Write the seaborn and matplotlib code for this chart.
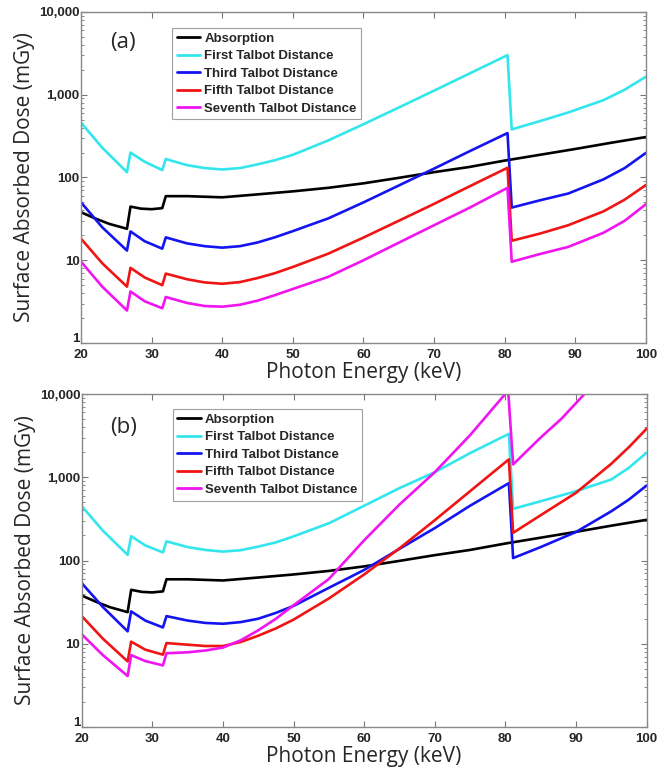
import numpy as np
import pandas as pd
import matplotlib
matplotlib.use("Agg")
import matplotlib.pyplot as plt
import matplotlib.transforms as mtransforms
from matplotlib.ticker import FixedLocator, FuncFormatter, LogLocator, NullFormatter
import seaborn as sns

# series names and colours
series_names = ['Absorption', 'First Talbot Distance', 'Third Talbot Distance',
                'Fifth Talbot Distance', 'Seventh Talbot Distance']
series_colors = ['#000000', '#33e6ee', '#1414f0', '#f01414', '#f014f0']

# absorption curve (same in both panels)
absorption_energy = [20, 22, 24, 26.5, 27, 28.5, 30, 31.5, 32, 35, 40, 45, 50, 55,
                     60, 65, 70, 75, 80, 85, 90, 95, 100]
absorption_dose = [38, 32, 27.5, 24, 44.5, 42, 41.4, 42.6, 59.5, 59.5, 57.6, 62.5, 68, 75,
                   85, 99, 116, 134, 160, 188, 221, 262, 308]

# panel (a)
energy_a = [20, 23, 26.5, 27, 29, 31.5, 32, 35, 37.5, 40, 42.5, 45, 47.5, 50, 55, 60, 65,
            70, 75, 80.4, 81, 85, 89, 94, 97, 100]
first_a = [459, 229, 116, 200, 155, 123, 167, 141, 130, 125, 130, 144, 162, 188, 280, 440,
           700, 1120, 1800, 3006, 381, 480, 610, 860, 1150, 1650]
third_a = [50, 25, 13.1, 22.3, 17, 13.8, 18.9, 16, 14.8, 14.2, 14.8, 16.4, 19, 22.5, 32, 50,
           80, 128, 207, 344, 43.3, 53, 64, 95, 130, 198]
fifth_a = [18.2, 9.2, 4.8, 8.1, 6.2, 5.0, 6.9, 5.9, 5.4, 5.2, 5.45, 6.1, 7.0, 8.3, 12, 18.8,
           30, 48, 78, 131, 17.2, 21, 26.5, 39, 54, 81]
seventh_a = [9.6, 4.8, 2.47, 4.2, 3.2, 2.63, 3.6, 3.05, 2.8, 2.75, 2.9, 3.25, 3.8, 4.5, 6.3, 10,
             16.3, 26.5, 43, 75, 9.6, 11.9, 14.5, 21.5, 30, 47.5]

# panel (b)
energy_b = [20, 23, 26.5, 27, 29, 31.5, 32, 35, 37.5, 40, 42.5, 45, 47.5, 50, 55, 60, 65,
            70, 75, 80.5, 81.1, 85, 90, 95, 97.5, 100]
first_b = [450, 228, 117, 196, 152, 125, 170, 145, 134, 128, 133, 147, 165, 195, 280, 455,
           740, 1150, 1950, 3320, 418, 515, 680, 940, 1300, 1970]
third_b = [53.5, 27.6, 14.1, 24.5, 19, 15.7, 21.5, 19, 17.8, 17.4, 18.2, 20, 23.5, 28.5, 47, 77,
           138, 245, 455, 850, 107, 145, 220, 390, 540, 795]
fifth_b = [21.5, 11.5, 6.15, 10.6, 8.5, 7.4, 10.2, 9.75, 9.4, 9.4, 10.5, 12.5, 15.3, 19.5, 35,
           68, 140, 305, 680, 1640, 215, 350, 650, 1450, 2300, 3820]
seventh_energy_b = [20, 23, 26.5, 27, 29, 31.5, 32, 35, 37.5, 40, 42.5, 45, 47.5, 50, 55, 60,
                    65, 70, 75, 80.4, 81.1, 85, 88, 91.2, 92]
seventh_b = [13, 7.3, 4.1, 7.3, 6.2, 5.5, 7.7, 7.9, 8.3, 9.0, 11, 14.5, 20, 29, 60, 175,
             470, 1150, 3200, 11000, 1425, 3000, 5100, 10000, 11600]

x_ticks = [20, 30, 40, 50, 60, 70, 80, 90, 100]
y_ticks = [1, 10, 100, 1000, 10000]


def build_frame(parts):
    rows = []
    for name, xs, ys in parts:
        for x, y in zip(xs, ys):
            rows.append({'Energy': x, 'Dose': y, 'Series': name})
    return pd.DataFrame(rows)


data_a = build_frame([
    (series_names[0], absorption_energy, absorption_dose),
    (series_names[1], energy_a, first_a),
    (series_names[2], energy_a, third_a),
    (series_names[3], energy_a, fifth_a),
    (series_names[4], energy_a, seventh_a),
])
data_b = build_frame([
    (series_names[0], absorption_energy, absorption_dose),
    (series_names[1], energy_b, first_b),
    (series_names[2], energy_b, third_b),
    (series_names[3], energy_b, fifth_b),
    (series_names[4], seventh_energy_b, seventh_b),
])

sns.set_style("ticks")
plt.rcParams['font.family'] = ['Liberation Sans', 'DejaVu Sans']

fig = plt.figure(figsize=(6.7, 7.7), dpi=100)
ax_a = fig.add_axes([0.121, 0.5545, 0.843, 0.430])
ax_b = fig.add_axes([0.122, 0.0558, 0.843, 0.4325])

palette = dict(zip(series_names, series_colors))

for ax, data, tag, tag_y, leg_y in [(ax_a, data_a, '(a)', 0.909, 0.952),
                                    (ax_b, data_b, '(b)', 0.898, 0.955)]:
    sns.lineplot(data=data, x='Energy', y='Dose', hue='Series', hue_order=series_names,
                 palette=palette, linewidth=1.9, estimator=None, ax=ax)
    ax.set_yscale('log')
    ax.set_xlim(20, 100)
    ax.set_ylim(1, 10000)
    ax.xaxis.set_major_locator(FixedLocator(x_ticks))
    ax.yaxis.set_major_locator(FixedLocator(y_ticks))
    ax.yaxis.set_major_formatter(FuncFormatter(lambda v, p: f'{int(round(v)):,}'))
    ax.yaxis.set_minor_locator(LogLocator(base=10, subs=np.arange(2, 10)))
    ax.yaxis.set_minor_formatter(NullFormatter())
    ax.tick_params(which='both', direction='in', top=True, right=True, color='#777777')
    ax.tick_params(which='major', length=4, width=0.8, pad=1)
    ax.tick_params(axis='x', which='major', pad=4)
    ax.tick_params(which='minor', length=2.5, width=0.6)
    for lab in ax.get_xticklabels() + ax.get_yticklabels():
        lab.set_fontweight('bold')
        lab.set_fontsize(9.5)
    # lift the "1" label a touch so it clears the "20" below it
    first_tick = ax.yaxis.get_major_ticks()[0].label1
    first_tick.set_transform(first_tick.get_transform() +
                             mtransforms.ScaledTranslation(0, 4 / 72, fig.dpi_scale_trans))
    for s in ax.spines.values():
        s.set_color('#888888')
        s.set_linewidth(1.0)
    ax.set_xlabel('Photon Energy (keV)', fontsize=15, family='Open Sans', labelpad=1)
    ax.set_ylabel('Surface Absorbed Dose (mGy)', fontsize=15, family='Open Sans', labelpad=3)
    ax.text(0.074, tag_y, tag, transform=ax.transAxes, fontsize=16, family='Open Sans',
            ha='center', va='center')
    sns.move_legend(ax, 'upper left', bbox_to_anchor=(0.161, leg_y), title=None,
                    frameon=True, fancybox=False, borderaxespad=0, handlelength=1.8,
                    handletextpad=0.3, labelspacing=0.4, borderpad=0.35,
                    prop={'weight': 'bold', 'size': 9.5})
    leg = ax.get_legend()
    leg.get_frame().set_edgecolor('#888888')
    leg.get_frame().set_linewidth(0.8)
    for h in leg.legend_handles:
        h.set_linewidth(2.0)

fig.savefig('out.png', dpi=100)
